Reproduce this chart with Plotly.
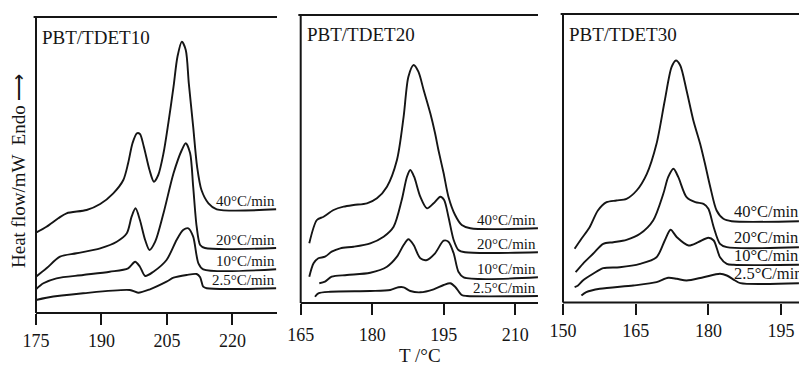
import plotly.graph_objects as go

rates = ["40°C/min", "20°C/min", "10°C/min", "2.5°C/min"]
titles = ["PBT/TDET10", "PBT/TDET20", "PBT/TDET30"]
tick_vals = [[175, 190, 205, 220], [165, 180, 195, 210], [150, 165, 180, 195]]

# ---- Panel 1: PBT/TDET10 (T in °C, heat flow in arbitrary units) ----
p1_40_T = [175.0, 177.4, 180.1, 182.0, 186.6, 189.7, 192.7, 195.0, 196.1, 197.1, 198.1, 198.8, 199.7, 201.0, 202.0, 203.0, 204.2, 205.3, 206.5, 207.4, 208.4, 209.3, 210.0, 211.0, 211.9, 212.9, 214.5, 216.4, 230.0]
p1_40_H = [80.3, 86.3, 94.7, 99.7, 103.0, 109.0, 119.7, 133.0, 149.7, 169.7, 179.7, 179.0, 166.3, 143.0, 131.3, 138.0, 159.7, 189.7, 226.3, 256.3, 271.3, 263.0, 229.7, 186.3, 146.3, 123.0, 109.7, 103.7, 103.7]
p1_20_T = [175.0, 177.4, 180.5, 184.3, 189.7, 193.5, 195.8, 196.9, 197.8, 198.8, 200.0, 201.0, 202.3, 204.2, 206.5, 208.4, 209.3, 210.3, 211.0, 211.8, 212.6, 213.7, 230.0]
p1_20_H = [36.3, 44.7, 56.3, 59.7, 64.7, 71.3, 79.7, 96.3, 104.7, 93.0, 73.0, 63.0, 71.3, 99.7, 139.7, 163.0, 169.7, 159.7, 126.3, 86.3, 68.0, 65.0, 65.0]
p1_10_T = [175.0, 176.7, 179.7, 185.8, 191.9, 196.1, 197.7, 198.8, 200.0, 201.9, 204.9, 207.2, 208.7, 209.9, 211.0, 212.2, 213.3, 230.0]
p1_10_H = [23.7, 29.7, 34.7, 38.0, 41.3, 44.7, 51.3, 46.3, 37.0, 41.3, 53.0, 73.0, 83.0, 84.7, 76.3, 49.7, 43.7, 43.7]
p1_2_T = [175.0, 177.4, 185.8, 196.5, 198.4, 201.1, 204.9, 206.5, 209.5, 211.8, 212.6, 213.3, 214.1, 230.0]
p1_2_H = [13.0, 15.3, 19.7, 23.0, 20.3, 23.7, 31.3, 35.3, 38.0, 39.0, 35.7, 26.3, 24.7, 24.7]

# ---- Panel 2: PBT/TDET20 ----
p2_40_T = [166.8, 168.4, 169.8, 171.9, 174.0, 176.1, 178.9, 181.0, 183.1, 185.2, 186.6, 187.6, 188.7, 189.7, 190.8, 192.2, 193.2, 193.9, 195.0, 196.0, 197.4, 198.8, 200.6, 214.9]
p2_40_H = [59.7, 83.0, 86.3, 93.0, 96.3, 98.0, 99.7, 104.7, 116.3, 143.0, 186.3, 226.3, 238.0, 231.3, 213.0, 189.7, 169.7, 153.0, 129.7, 106.3, 88.0, 78.0, 74.7, 74.7]
p2_20_T = [166.8, 167.7, 168.7, 170.1, 171.5, 173.3, 176.1, 179.6, 182.4, 184.5, 186.2, 187.3, 188.0, 188.8, 190.1, 191.5, 192.9, 194.3, 195.1, 196.0, 197.1, 198.1, 199.5, 214.9]
p2_20_H = [26.3, 39.7, 44.7, 46.3, 51.3, 54.7, 56.3, 59.7, 66.3, 76.3, 103.0, 126.3, 133.0, 126.3, 106.3, 94.7, 99.7, 106.3, 103.0, 86.3, 63.0, 53.0, 50.7, 50.7]
p2_10_T = [168.9, 170.1, 171.5, 174.7, 179.6, 183.1, 185.2, 186.6, 187.6, 188.7, 190.1, 191.5, 193.2, 195.0, 196.0, 197.1, 198.1, 199.2, 214.9]
p2_10_H = [19.7, 21.3, 26.3, 28.0, 30.3, 36.3, 46.3, 58.0, 63.7, 58.0, 44.7, 43.0, 49.7, 62.3, 61.3, 49.7, 31.3, 25.7, 25.7]
p2_2_T = [168.0, 168.7, 171.2, 179.6, 183.8, 185.5, 186.6, 188.0, 190.1, 192.9, 195.0, 196.4, 197.4, 198.8, 199.9, 214.9]
p2_2_H = [6.3, 9.7, 11.3, 12.0, 13.0, 15.7, 15.7, 12.0, 10.7, 13.7, 18.0, 19.7, 16.3, 8.0, 7.0, 7.0]

# ---- Panel 3: PBT/TDET30 ----
p3_40_T = [152.4, 153.8, 155.5, 157.2, 159.0, 161.0, 163.1, 165.2, 167.3, 169.3, 171.0, 172.4, 173.3, 174.2, 175.5, 176.9, 178.3, 179.3, 180.4, 181.7, 183.1, 184.8, 198.8]
p3_40_H = [53.7, 63.7, 75.3, 92.0, 100.3, 102.0, 103.7, 112.0, 128.7, 158.7, 202.0, 235.3, 242.0, 237.0, 212.0, 182.0, 158.7, 138.7, 115.3, 92.0, 83.7, 81.3, 81.3]
p3_20_T = [152.6, 154.1, 156.2, 158.3, 160.4, 163.1, 165.9, 168.6, 170.7, 171.7, 172.8, 173.8, 175.5, 177.3, 179.0, 180.0, 181.1, 182.4, 183.8, 198.8]
p3_20_H = [30.3, 38.7, 48.7, 58.7, 60.3, 62.7, 68.7, 82.0, 108.7, 125.3, 133.7, 125.3, 105.3, 100.3, 98.7, 93.7, 75.3, 58.7, 55.3, 55.3]
p3_10_T = [152.4, 153.1, 154.1, 156.2, 158.3, 161.7, 165.9, 169.3, 171.0, 172.2, 173.5, 175.9, 177.9, 180.0, 181.1, 182.4, 183.8, 185.2, 198.8]
p3_10_H = [15.3, 17.0, 22.0, 28.7, 34.3, 35.3, 38.7, 45.3, 62.0, 72.7, 65.3, 57.0, 60.3, 64.7, 62.0, 45.3, 38.7, 37.7, 37.7]
p3_2_T = [153.8, 154.8, 157.6, 164.5, 169.3, 171.7, 173.5, 175.5, 179.0, 182.4, 183.8, 185.5, 186.6, 198.8]
p3_2_H = [7.0, 10.3, 13.7, 17.0, 20.3, 24.7, 23.7, 22.0, 25.3, 28.7, 27.0, 22.0, 19.3, 19.3]

panels = [
    [(p1_40_T, p1_40_H), (p1_20_T, p1_20_H), (p1_10_T, p1_10_H), (p1_2_T, p1_2_H)],
    [(p2_40_T, p2_40_H), (p2_20_T, p2_20_H), (p2_10_T, p2_10_H), (p2_2_T, p2_2_H)],
    [(p3_40_T, p3_40_H), (p3_20_T, p3_20_H), (p3_10_T, p3_10_H), (p3_2_T, p3_2_H)],
]

W, Hh = 799, 365
# pixel geometry of each panel: (left, right, bottom, top)
geo = [(36, 277, 313, 17), (300.7, 538, 303, 15), (563, 799, 302.5, 14)]
xranges = [[175, 230.2], [165, 214.8], [150, 198.7]]
yranges = [[0, 296], [0, 288], [0, 288.5]]
standoff = [0, 4, 1]
label_size = [15, 15, 16.5]

SERIF = "Liberation Serif, Times New Roman, serif"
INK = "#151515"

fig = go.Figure()
layout = dict(
    width=W, height=Hh, margin=dict(l=0, r=0, t=0, b=0, autoexpand=False),
    paper_bgcolor="white", plot_bgcolor="rgba(0,0,0,0)", showlegend=False,
    font=dict(family=SERIF, color=INK),
)
annotations = []
shapes = []
for i, curves in enumerate(panels):
    ax = "" if i == 0 else str(i + 1)
    L, R, B, T = geo[i]
    for (tx, hy) in curves:
        fig.add_trace(go.Scatter(
            x=tx, y=hy, mode="lines", xaxis="x" + ax, yaxis="y" + ax,
            line=dict(color=INK, width=1.9, shape="spline", smoothing=0.8),
            hoverinfo="skip",
        ))
    layout["xaxis" + ax] = dict(
        domain=[L / W, min(R / W, 1.0)], range=xranges[i], anchor="y" + ax,
        tickvals=tick_vals[i], ticks="outside", ticklen=11, tickwidth=1.8,
        tickcolor=INK, showline=False,
        showgrid=False, zeroline=False, ticklabelstandoff=standoff[i],
        automargin=False,
        tickfont=dict(family=SERIF, size=18, color=INK),
    )
    layout["yaxis" + ax] = dict(
        domain=[1 - B / Hh, 1 - T / Hh], range=yranges[i], anchor="x" + ax,
        showline=False, showticklabels=False,
        ticks="", showgrid=False, zeroline=False, automargin=False,
    )
    # frame lines of the panel: left, top, bottom (no right side)
    for (x0, y0, x1, y1) in [(0, 0, 0, 1), (-0.01, 1, 1, 1), (0, 0, 1, 0)]:
        shapes.append(dict(
            type="line", xref="x" + ax + " domain", yref="y" + ax + " domain",
            x0=x0, x1=x1, y0=y0, y1=y1, line=dict(color=INK, width=2),
        ))
    # keep the right side of the panel open
    shapes.append(dict(
        type="line", xref="x" + ax + " domain", yref="y" + ax + " domain",
        x0=1.005, x1=1.005, y0=0.012, y1=0.99, layer="above",
        line=dict(color="white", width=2.5),
    ))
    annotations.append(dict(
        text=titles[i], xref="paper", yref="paper",
        x=(L + 4) / W, y=1 - (T + 20) / Hh, xanchor="left", yanchor="middle",
        showarrow=False, font=dict(family=SERIF, size=19, color=INK),
    ))
    for j, (tx, hy) in enumerate(curves):
        if i < 2:
            xa, xan = xranges[i][1], "right"
        else:
            xa, xan = 184.9, "left"
        annotations.append(dict(
            text=rates[j], xref="x" + ax, yref="y" + ax, x=xa, y=hy[-1],
            xanchor=xan, yanchor="bottom", yshift=-2, showarrow=False,
            font=dict(family=SERIF, size=label_size[i], color=INK),
        ))

annotations.append(dict(
    text="Heat flow/mW  Endo ⟶", xref="paper", yref="paper",
    x=18 / W, y=1 - 171 / Hh, textangle=-90, showarrow=False,
    xanchor="center", yanchor="middle",
    font=dict(family=SERIF, size=19, color=INK),
))
annotations.append(dict(
    text="T /°C", xref="paper", yref="paper",
    x=420 / W, y=1 - 355 / Hh, showarrow=False,
    xanchor="center", yanchor="middle",
    font=dict(family=SERIF, size=19, color=INK),
))
layout["annotations"] = annotations
layout["shapes"] = shapes
fig.update_layout(**layout)
fig.write_html("out.html")
